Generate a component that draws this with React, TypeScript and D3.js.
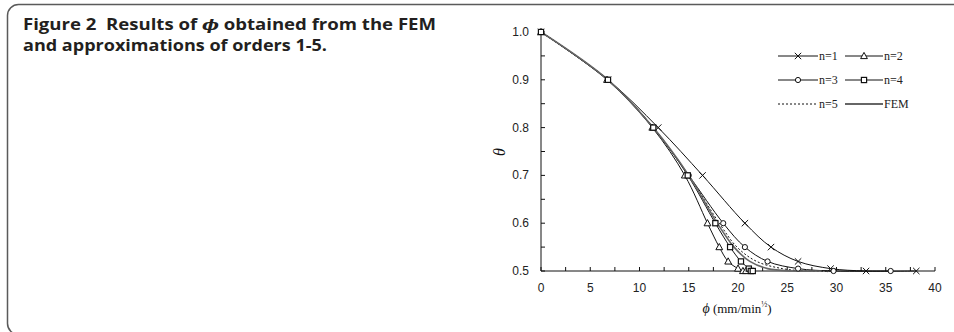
import React from "react";
import * as d3 from "d3";

// theta levels shared by every series
const thetaLevels = [1.0, 0.9, 0.8, 0.7, 0.6, 0.55, 0.52, 0.505, 0.5, 0.5];

const phiN1 = [0, 6.8, 11.9, 16.4, 20.7, 23.35, 26.1, 29.4, 33.0, 38.1];
const phiN2 = [0, 6.7, 11.3, 14.6, 16.9, 18.1, 19.0, 20.0, 20.5, 20.8];
const phiN3 = [0, 6.8, 11.4, 15.0, 18.5, 20.7, 23.0, 26.1, 29.7, 35.5];
const phiN4 = [0, 6.8, 11.4, 14.9, 17.7, 19.2, 20.3, 21.1, 21.3, 21.5];
const phiN5 = [0, 6.8, 11.4, 15.0, 18.1, 19.9, 21.9, 24.5, 27.0, 30.0];
const phiFEM = [0, 6.8, 11.4, 15.0, 17.9, 19.6, 21.2, 23.0, 25.5, 28.5];

const legendLabels = ["n=1", "n=2", "n=3", "n=4", "n=5", "FEM"];
const xTickLabels = [0, 5, 10, 15, 20, 25, 30, 35, 40];
const yTickLabels = [0.5, 0.6, 0.7, 0.8, 0.9, 1.0];

type Marker = "x" | "tri" | "circle" | "square" | "none";

const series = [
  { name: legendLabels[0], xs: phiN1, marker: "x" as Marker, dash: "", stroke: "#111", width: 1 },
  { name: legendLabels[1], xs: phiN2, marker: "tri" as Marker, dash: "", stroke: "#111", width: 1 },
  { name: legendLabels[2], xs: phiN3, marker: "circle" as Marker, dash: "", stroke: "#111", width: 1 },
  { name: legendLabels[3], xs: phiN4, marker: "square" as Marker, dash: "", stroke: "#111", width: 1 },
  { name: legendLabels[4], xs: phiN5, marker: "none" as Marker, dash: "2,2", stroke: "#111", width: 1 },
  { name: legendLabels[5], xs: phiFEM, marker: "none" as Marker, dash: "", stroke: "#666", width: 1.6 },
];

const x = d3.scaleLinear().domain([0, 40]).range([541, 935]);
const y = d3.scaleLinear().domain([0.5, 1.0]).range([271, 32]);

const line = d3
  .line<[number, number]>()
  .x((d) => x(d[0]))
  .y((d) => y(d[1]))
  .curve(d3.curveCatmullRom.alpha(0.5));

function MarkerShape({ kind, cx, cy }: { kind: Marker; cx: number; cy: number }) {
  const s = 3.2;
  if (kind === "x")
    return (
      <path
        d={`M${cx - s},${cy - s}L${cx + s},${cy + s}M${cx - s},${cy + s}L${cx + s},${cy - s}`}
        stroke="#111"
        strokeWidth={1}
        fill="none"
      />
    );
  if (kind === "tri")
    return (
      <path
        d={`M${cx},${cy - 3.6}L${cx + 3.4},${cy + 2.6}L${cx - 3.4},${cy + 2.6}Z`}
        stroke="#111"
        strokeWidth={1}
        fill="#fff"
      />
    );
  if (kind === "circle")
    return <circle cx={cx} cy={cy} r={2.6} stroke="#111" strokeWidth={1} fill="#fff" />;
  if (kind === "square")
    return (
      <rect x={cx - 2.6} y={cy - 2.6} width={5.2} height={5.2} stroke="#111" strokeWidth={1.2} fill="#fff" />
    );
  return null;
}

export default function App() {
  const xTicks = d3.range(0, 40.01, 2.5);
  const yTicks = d3.range(0.5, 1.001, 0.05);

  const legendPos = [
    [778, 56],
    [845, 56],
    [778, 80],
    [845, 80],
    [778, 104],
    [845, 104],
  ];

  return (
    <svg
      width={954}
      height={332}
      style={{ position: "absolute", left: 0, top: 0, background: "#fff" }}
    >
      {/* frame */}
      <rect x={7.5} y={4.5} width={990} height={330} rx={11} ry={11} fill="none" stroke="#5a5a5a" strokeWidth={1.5} />

      {/* caption */}
      <g fontFamily="'Open Sans', 'Liberation Sans', sans-serif" fontWeight="bold" fontSize={15.5} fill="#231f20">
        <text x={23} y={30} textLength={413} lengthAdjust="spacingAndGlyphs">
          Figure 2
          <tspan dx={8}>Results of </tspan>
          <tspan fontStyle="italic" fontFamily="'DejaVu Serif', serif" fontSize={15}>ϕ</tspan>
          <tspan> obtained from the FEM</tspan>
        </text>
        <text x={23} y={51} textLength={304} lengthAdjust="spacingAndGlyphs">
          and approximations of orders 1-5.
        </text>
      </g>

      {/* axes */}
      <g stroke="#111" strokeWidth={1}>
        <line x1={x(0)} x2={x(0)} y1={y(1.0)} y2={y(0.5)} />
        <line x1={x(0)} x2={x(40)} y1={y(0.5)} y2={y(0.5)} />
        {yTicks.map((t) => (
          <line key={"yt" + t} x1={x(0)} x2={x(0) + 4} y1={y(t)} y2={y(t)} />
        ))}
        {xTicks.map((t) => (
          <line key={"xt" + t} x1={x(t)} x2={x(t)} y1={y(0.5)} y2={y(0.5) - 4} />
        ))}
      </g>

      <g fontFamily="'Liberation Sans', Arial, sans-serif" fontSize={12} fill="#222">
        {yTickLabels.map((t) => (
          <text key={"yl" + t} x={529} y={y(t) + 4} textAnchor="end">
            {t.toFixed(1)}
          </text>
        ))}
        {xTickLabels.map((t) => (
          <text key={"xl" + t} x={x(t)} y={292} textAnchor="middle">
            {t}
          </text>
        ))}
      </g>

      {/* axis titles */}
      <text
        transform={`translate(505,152) rotate(-90)`}
        textAnchor="middle"
        fontFamily="'Liberation Serif', serif"
        fontStyle="italic"
        fontSize={16}
        fill="#111"
      >
        θ
      </text>
      <text x={737} y={313} textAnchor="middle" fontFamily="'Liberation Serif', serif" fontSize={13} fill="#111">
        <tspan fontStyle="italic" fontSize={14}>ϕ</tspan> (mm/min
        <tspan fontSize={8} dy={-6}>½</tspan>
        <tspan dy={6}>)</tspan>
      </text>

      {/* series lines */}
      {series.map((s) => (
        <path
          key={"l" + s.name}
          d={line(s.xs.map((v, i) => [v, thetaLevels[i]] as [number, number])) || ""}
          fill="none"
          stroke={s.stroke}
          strokeWidth={s.width}
          strokeDasharray={s.dash || undefined}
        />
      ))}
      {series.map((s) =>
        s.xs.map((v, i) => (
          <MarkerShape key={s.name + i} kind={s.marker} cx={x(v)} cy={y(thetaLevels[i])} />
        ))
      )}

      {/* legend */}
      {series.map((s, i) => {
        const [lx, ly] = legendPos[i];
        const len = i % 2 === 0 ? 40 : 38;
        return (
          <g key={"lg" + s.name}>
            <line
              x1={lx}
              x2={lx + len}
              y1={ly}
              y2={ly}
              stroke={s.stroke}
              strokeWidth={s.width === 1 ? 1 : 2}
              strokeDasharray={s.dash || undefined}
            />
            <MarkerShape kind={s.marker} cx={lx + len / 2} cy={ly} />
            <text
              x={lx + len + 1}
              y={ly + 4}
              fontFamily="'Liberation Serif', serif"
              fontSize={12}
              fill="#222"
            >
              {s.name}
            </text>
          </g>
        );
      })}
    </svg>
  );
}
